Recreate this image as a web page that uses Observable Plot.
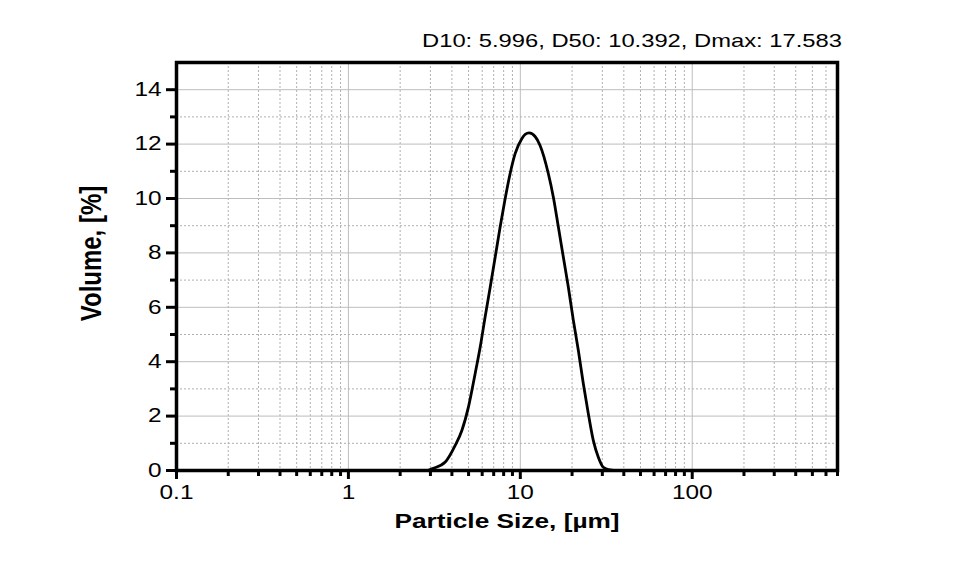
<!DOCTYPE html>
<html>
<head>
<meta charset="utf-8">
<script src="https://cdn.jsdelivr.net/npm/d3@7"></script>
<script src="https://cdn.jsdelivr.net/npm/@observablehq/plot@0.6"></script>
<style>
  html, body { margin: 0; padding: 0; background: white; }
  #wrap { width: 953px; height: 575px; position: relative; overflow: hidden; font-family: "Liberation Sans", Arial, sans-serif; }
  #title { position: relative; height: 50px; }
  #title span { position: absolute; right: 111px; top: 31px; font-size: 19px; line-height: 19px; color: #000;
    white-space: nowrap; transform: scaleX(1.25); transform-origin: right center; }
  svg { display: block; }
</style>
</head>
<body>
<div id="wrap">
  <div id="title"><span>D10: 5.996, D50: 10.392, Dmax: 17.583</span></div>
  <div id="chart"></div>
</div>
<script>
// Particle size (µm) and volume (%)
const sizes  = [2.9, 3.06, 3.66, 4.18, 4.57, 4.99, 5.46, 5.84, 6.24, 6.68, 7.14, 7.63, 8.16, 8.72, 9.33, 10.2, 10.67, 11.25, 12.19, 13.03, 14.56, 15.57, 16.65, 17.80, 19.03, 20.35, 21.76, 23.26, 24.87, 26.60, 28.43, 30.4, 33.25, 35];
const volume = [0, 0.06, 0.31, 0.92, 1.47, 2.33, 3.56, 4.53, 5.64, 6.74, 7.84, 8.95, 9.99, 10.91, 11.65, 12.2, 12.36, 12.41, 12.28, 11.95, 10.91, 10.05, 8.95, 7.84, 6.74, 5.52, 4.41, 3.19, 2.09, 1.10, 0.49, 0.12, 0.02, 0];

const xMajor = [0.1, 1, 10, 100];
const xTickLabels = ["0.1", "1", "10", "100"];
const xMinor = [0.2, 0.3, 0.4, 0.5, 0.6, 0.7, 0.8, 0.9,
                2, 3, 4, 5, 6, 7, 8, 9,
                20, 30, 40, 50, 60, 70, 80, 90,
                200, 300, 400, 500, 600, 700];
const yMajor = [0, 2, 4, 6, 8, 10, 12, 14];
const yMinor = [1, 3, 5, 7, 9, 11, 13];
const xLabel = "Particle Size, [µm]";
const yLabel = "Volume, [%]";

const data = sizes.map((s, i) => ({size: s, vol: volume[i]}));
const gridColor = "#bdbdbd";
const dotColor = "#b0b0b0";

const chart = Plot.plot({
  width: 953,
  height: 525,
  marginTop: 12,
  marginBottom: 105,
  marginLeft: 176,
  marginRight: 116,
  x: {type: "log", domain: [0.1, 700]},
  y: {domain: [0, 15]},
  style: {fontFamily: "Liberation Sans, Arial, sans-serif", fontSize: "19.5px", color: "black", background: "white", overflow: "visible"},
  marks: [
    Plot.gridX(xMinor, {stroke: dotColor, strokeOpacity: 1, strokeWidth: 1, strokeDasharray: "2,2"}),
    Plot.gridX([1, 10, 100], {stroke: gridColor, strokeOpacity: 1, strokeWidth: 1}),
    Plot.gridY(yMinor, {stroke: dotColor, strokeOpacity: 1, strokeWidth: 1, strokeDasharray: "2,2"}),
    Plot.gridY(yMajor.filter(v => v > 0), {stroke: gridColor, strokeOpacity: 1, strokeWidth: 1}),
    Plot.line(data, {x: "size", y: "vol", stroke: "black", strokeWidth: 2.8, curve: "monotone-x"}),
    Plot.frame({stroke: "black", strokeWidth: 3.5}),
    Plot.axisX({ticks: xMinor, tickSize: 6, tickFormat: () => "", strokeWidth: 3, label: null}),
    Plot.axisX({ticks: xMajor, tickSize: 9, tickPadding: 6, strokeWidth: 3, label: null,
                tickFormat: d => xTickLabels[xMajor.indexOf(d)]}),
    Plot.axisY({ticks: yMinor, tickSize: 6, tickFormat: () => "", strokeWidth: 3, label: null}),
    Plot.axisY({ticks: yMajor, tickSize: 10, tickPadding: 5, strokeWidth: 3, label: null}),
    Plot.text([xLabel], {frameAnchor: "bottom", dy: 57, lineAnchor: "bottom", textAnchor: "middle", fontSize: 21, fontWeight: "bold", fill: "black"}),
    Plot.text([yLabel], {frameAnchor: "left", dx: -76, dy: -13, rotate: -90, lineAnchor: "bottom", textAnchor: "middle", fontSize: 24, fontWeight: "bold", fill: "black"})
  ]
});

document.getElementById("chart").appendChild(chart);

// The reference text is horizontally stretched; reproduce it.
const stretch = 1.25;
chart.querySelectorAll("text").forEach(t => {
  const s = t.textContent;
  if (!s) return;
  if (s === yLabel) {
    const tr = t.getAttribute("transform") || "";
    t.setAttribute("transform", tr + " scale(1," + stretch + ")");
    return;
  }
  const len = t.getComputedTextLength();
  if (len > 0) {
    t.setAttribute("textLength", (len * stretch).toFixed(2));
    t.setAttribute("lengthAdjust", "spacingAndGlyphs");
  }
});
</script>
</body>
</html>
